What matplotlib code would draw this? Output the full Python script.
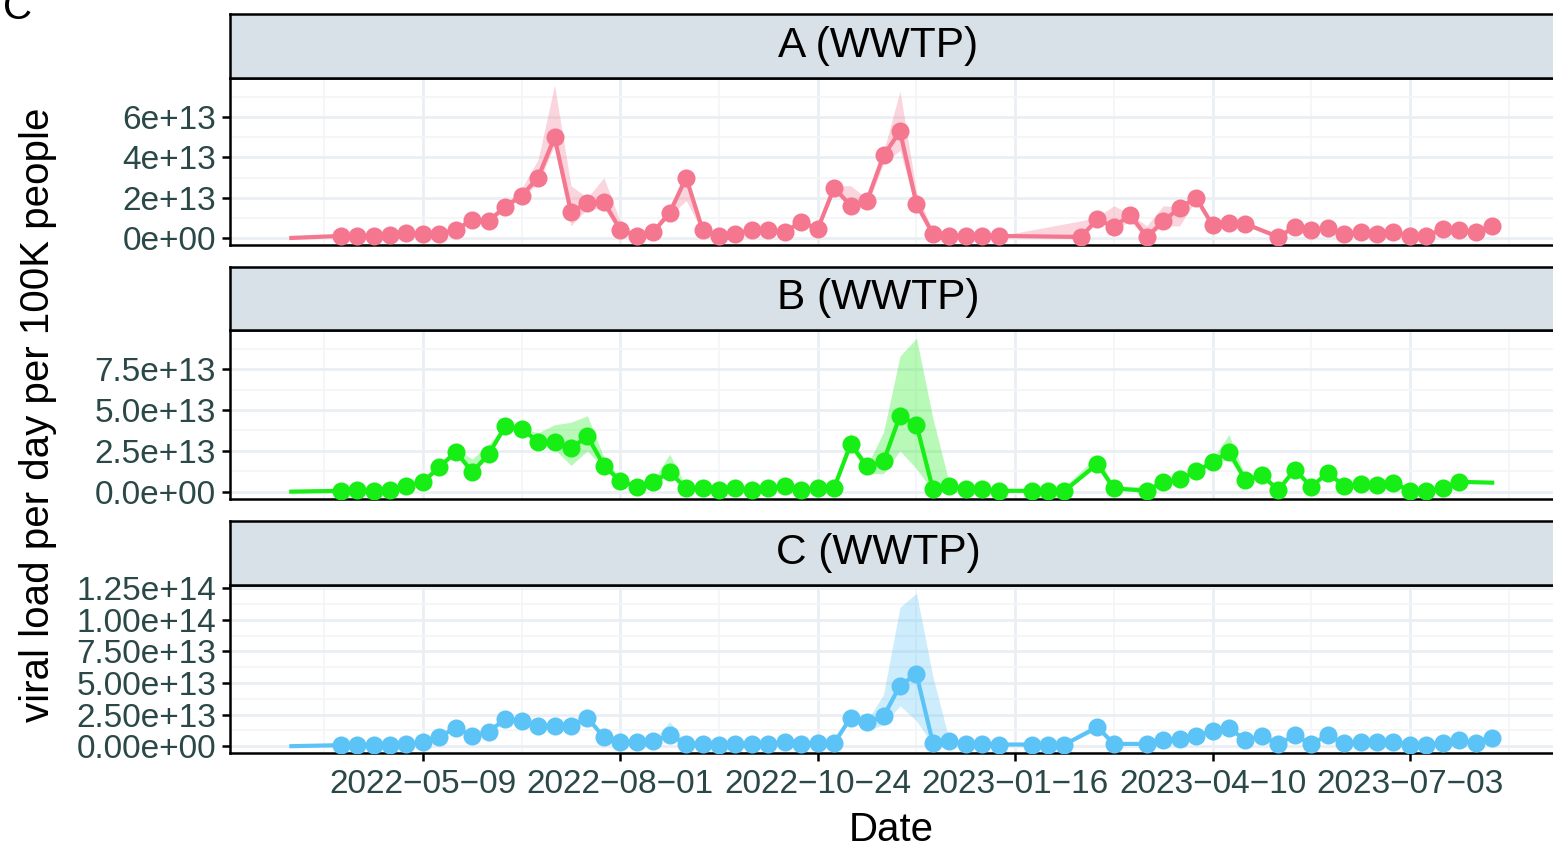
import matplotlib.pyplot as plt
import numpy as np
import pandas as pd

plt.rcParams["font.family"] = ["Liberation Sans", "DejaVu Sans"]

nan = np.nan

# weekly sampling dates; the first week only carries the fitted line
weeks = pd.date_range("2022-03-14", "2023-08-07", freq="7D")

# viral load per day per 100K people, in units of 1e13 (nan = no sample)
a_val = [0.0, nan, nan,
         0.1, 0.1, 0.1, 0.15, 0.25, 0.2, 0.2, 0.4, 0.9, 0.85,
         1.55, 2.1, 3.0, 5.0, 1.3, 1.75, 1.8, 0.4, 0.1, 0.3,
         1.25, 3.0, 0.4, 0.1, 0.2, 0.4, 0.4, 0.3, 0.8, 0.45,
         2.5, 1.6, 1.85, 4.1, 5.3, 1.7, 0.2, 0.1, 0.1, 0.1,
         0.1, nan, nan, nan, nan, 0.05, 0.93, 0.55, 1.15, 0.05,
         0.83, 1.5, 2.0, 0.63, 0.76, 0.7, nan, 0.05, 0.55, 0.4,
         0.5, 0.2, 0.3, 0.2, 0.3, 0.1, 0.1, 0.45, 0.4, 0.3,
         0.6]
a_lo = [0.0, nan, nan,
        0.05, 0.05, 0.05, 0.1, 0.2, 0.15, 0.15, 0.35, 0.8, 0.8,
        1.4, 2.0, 2.7, 4.6, 0.6, 1.45, 1.45, 0.3, 0.05, 0.25,
        1.1, 1.85, 0.3, 0.05, 0.15, 0.35, 0.35, 0.25, 0.75, 0.4,
        2.3, 1.5, 1.6, 3.7, 4.35, 1.4, 0.15, 0.05, 0.05, 0.05,
        0.05, nan, nan, nan, nan, 0.0, 0.8, 0.45, 0.8, 0.0,
        0.6, 0.6, 1.9, 0.55, 0.7, 0.65, nan, 0.0, 0.5, 0.35,
        0.45, 0.15, 0.25, 0.15, 0.25, 0.05, 0.05, 0.4, 0.35, 0.25,
        0.55]
a_hi = [0.0, nan, nan,
        0.1, 0.1, 0.1, 0.15, 0.25, 0.2, 0.2, 0.45, 1.0, 1.0,
        1.7, 2.45, 3.9, 7.6, 2.6, 2.0, 3.0, 0.8, 0.2, 0.4,
        1.6, 3.0, 0.6, 0.15, 0.25, 0.45, 0.45, 0.35, 0.85, 0.5,
        2.6, 2.6, 1.95, 4.3, 7.3, 2.3, 0.3, 0.15, 0.15, 0.15,
        0.1, nan, nan, nan, nan, 0.85, 1.05, 1.6, 1.2, 0.6,
        1.6, 1.55, 2.05, 0.7, 0.8, 0.75, nan, 0.1, 0.6, 0.45,
        0.55, 0.25, 0.35, 0.25, 0.35, 0.15, 0.15, 0.5, 0.45, 0.35,
        0.65]

b_val = [0.0, nan, nan,
         0.05, 0.1, 0.05, 0.1, 0.35, 0.6, 1.5, 2.45, 1.2, 2.3,
         4.0, 3.85, 3.05, 3.05, 2.65, 3.4, 1.6, 0.65, 0.3, 0.6,
         1.2, 0.2, 0.2, 0.1, 0.2, 0.1, 0.2, 0.35, 0.1, 0.2,
         0.25, 2.9, 1.55, 1.85, 4.65, 4.1, 0.15, 0.35, 0.15, 0.15,
         0.05, nan, 0.05, 0.05, 0.05, nan, 1.7, 0.2, nan, 0.05,
         0.6, 0.75, 1.25, 1.8, 2.45, 0.7, 1.0, 0.1, 1.35, 0.3,
         1.15, 0.35, 0.45, 0.4, 0.55, 0.05, 0.05, 0.2, 0.6, nan,
         0.55]
b_lo = [0.0, nan, nan,
        0.0, 0.05, 0.0, 0.05, 0.3, 0.5, 1.4, 2.3, 1.1, 2.2,
        3.9, 3.7, 2.9, 2.6, 1.6, 2.5, 1.4, 0.55, 0.25, 0.5,
        1.0, 0.15, 0.15, 0.05, 0.15, 0.05, 0.15, 0.3, 0.05, 0.15,
        0.2, 2.7, 1.1, 1.1, 2.5, 1.4, 0.05, 0.3, 0.1, 0.1,
        0.0, nan, 0.0, 0.0, 0.0, nan, 1.6, 0.15, nan, 0.0,
        0.5, 0.7, 1.2, 1.7, 2.0, 0.6, 0.9, 0.05, 1.25, 0.25,
        1.05, 0.3, 0.4, 0.35, 0.5, 0.0, 0.0, 0.15, 0.55, nan,
        0.55]
b_hi = [0.0, nan, nan,
        0.1, 0.15, 0.1, 0.15, 0.4, 0.7, 1.6, 2.6, 2.0, 2.9,
        4.0, 3.9, 3.6, 4.1, 4.25, 4.65, 2.1, 0.8, 0.4, 0.7,
        2.3, 0.3, 0.25, 0.15, 0.25, 0.15, 0.25, 0.4, 0.15, 0.25,
        0.3, 3.6, 1.6, 3.65, 8.3, 9.4, 4.5, 0.5, 0.2, 0.2,
        0.1, nan, 0.1, 0.1, 0.3, nan, 2.2, 0.35, nan, 0.3,
        0.7, 0.85, 1.35, 2.0, 3.5, 0.9, 1.1, 0.15, 1.45, 0.35,
        1.25, 0.4, 0.5, 0.45, 0.6, 0.1, 0.1, 0.25, 0.65, nan,
        0.55]

c_val = [0.0, nan, nan,
         0.08, 0.08, 0.08, 0.13, 0.18, 0.3, 0.75, 1.45, 0.8, 1.15,
         2.15, 2.0, 1.6, 1.6, 1.6, 2.25, 0.7, 0.3, 0.3, 0.4,
         0.85, 0.2, 0.2, 0.13, 0.2, 0.2, 0.2, 0.3, 0.2, 0.25,
         0.25, 2.25, 1.9, 2.35, 4.8, 5.7, 0.25, 0.4, 0.2, 0.2,
         0.13, nan, 0.13, 0.13, 0.13, nan, 1.5, 0.18, nan, 0.18,
         0.47, 0.58, 0.8, 1.2, 1.45, 0.47, 0.8, 0.18, 0.85, 0.18,
         0.85, 0.25, 0.3, 0.3, 0.3, 0.13, 0.13, 0.25, 0.47, 0.25,
         0.65]
c_lo = [0.0, nan, nan,
        0.05, 0.05, 0.05, 0.1, 0.15, 0.25, 0.7, 1.4, 0.7, 1.1,
        2.1, 1.9, 1.5, 1.5, 1.5, 2.1, 0.6, 0.25, 0.25, 0.35,
        0.7, 0.15, 0.15, 0.1, 0.15, 0.15, 0.15, 0.25, 0.15, 0.2,
        0.2, 2.1, 1.2, 1.7, 3.2, 2.0, 0.1, 0.35, 0.15, 0.15,
        0.1, nan, 0.1, 0.1, 0.1, nan, 1.3, 0.15, nan, 0.15,
        0.45, 0.55, 0.75, 1.1, 1.3, 0.45, 0.75, 0.15, 0.8, 0.15,
        0.8, 0.2, 0.25, 0.25, 0.25, 0.1, 0.1, 0.2, 0.45, 0.2,
        0.6]
c_hi = [0.0, nan, nan,
        0.1, 0.1, 0.1, 0.15, 0.2, 0.35, 0.8, 1.5, 0.9, 1.2,
        2.2, 2.1, 1.7, 1.8, 2.1, 2.5, 0.8, 0.35, 0.35, 0.45,
        1.95, 0.25, 0.25, 0.15, 0.25, 0.25, 0.25, 0.35, 0.25, 0.3,
        0.3, 2.4, 2.0, 4.1, 11.0, 12.1, 5.5, 0.45, 0.25, 0.25,
        0.15, nan, 0.15, 0.15, 0.3, nan, 1.85, 0.25, nan, 0.2,
        0.5, 0.6, 0.85, 1.3, 1.6, 0.5, 0.85, 0.2, 0.9, 0.2,
        0.9, 0.3, 0.35, 0.35, 0.35, 0.15, 0.15, 0.3, 0.5, 0.3,
        0.7]

# weeks drawn as line only (no point)
a_nomark = [0]
b_nomark = [0, 73]
c_nomark = [0]

a_yticks = [0, 2e13, 4e13, 6e13]
a_ylabels = ["0e+00", "2e+13", "4e+13", "6e+13"]
b_yticks = [0, 2.5e13, 5e13, 7.5e13]
b_ylabels = ["0.0e+00", "2.5e+13", "5.0e+13", "7.5e+13"]
c_yticks = [0, 2.5e13, 5e13, 7.5e13, 1e14, 1.25e14]
c_ylabels = ["0.00e+00", "2.50e+13", "5.00e+13", "7.50e+13", "1.00e+14", "1.25e+14"]

xtick_labels = ["2022-05-09", "2022-08-01", "2022-10-24",
                "2023-01-16", "2023-04-10", "2023-07-03"]

panels = [
    ("A (WWTP)", a_val, a_lo, a_hi, a_nomark, "#F5768F", a_yticks, a_ylabels, (-0.35e13, 7.95e13)),
    ("B (WWTP)", b_val, b_lo, b_hi, b_nomark, "#16EE16", b_yticks, b_ylabels, (-0.45e13, 9.9e13)),
    ("C (WWTP)", c_val, c_lo, c_hi, c_nomark, "#5CC3F7", c_yticks, c_ylabels, (-0.5e13, 12.75e13)),
]

W, H = 1553, 846
fig = plt.figure(figsize=(W / 100, H / 100), dpi=100)

left, right = 230, 1558
# (strip top, panel top, panel bottom) in pixels from the top
rows = [(14, 78, 245), (267, 330, 499), (521, 585, 752.5)]

xmaj = pd.to_datetime(xtick_labels)
xmin = list(xmaj - pd.Timedelta(days=42)) + [xmaj[-1] + pd.Timedelta(days=42)]
xlim = (pd.Timestamp("2022-05-09") - pd.Timedelta(days=82.1),
        pd.Timestamp("2023-07-03") + pd.Timedelta(days=63))

tick_col = "#2B4848"
grid_col = "#EAEFF3"

for i, (title, val, lo, hi, nomark, col, yt, ylab, ylim) in enumerate(panels):
    s_top, p_top, p_bot = rows[i]
    ax = fig.add_axes([left / W, 1 - p_bot / H, (right - left) / W, (p_bot - p_top) / H])

    val = np.array(val) * 1e13
    lo = np.array(lo) * 1e13
    hi = np.array(hi) * 1e13
    ok = ~np.isnan(val)
    mark = ok.copy()
    mark[nomark] = False

    ax.fill_between(weeks[ok], lo[ok], hi[ok], color=col, alpha=0.3, lw=0, zorder=2)
    ax.plot(weeks[ok], val[ok], color=col, lw=3.0, zorder=3)
    ax.plot(weeks[mark], val[mark], "o", color=col, ms=13, mew=0, zorder=4)

    ax.set_xticks(xmaj)
    ax.set_xticks(xmin, minor=True)
    ymin = [t + (yt[1] - yt[0]) / 2 for t in yt]
    ax.set_yticks(yt)
    ax.set_yticks(ymin, minor=True)
    ax.set_yticklabels(ylab)
    # limits go last so the minor ticks cannot widen them
    ax.set_xlim(xlim)
    ax.set_ylim(ylim)

    ax.grid(which="major", color=grid_col, lw=2.0, zorder=0)
    ax.grid(which="minor", color="#F3F6F8", lw=1.3, zorder=0)
    ax.set_axisbelow(True)

    ax.tick_params(which="minor", length=0)
    ax.tick_params(axis="y", which="major", length=6, width=1.8, color="black",
                   labelsize=24, labelcolor=tick_col, pad=4)
    if i == 2:
        ax.set_xticklabels([s.replace("-", "\u2212") for s in xtick_labels])
        ax.tick_params(axis="x", which="major", length=6, width=1.8, color="black",
                       labelsize=24, labelcolor=tick_col, pad=6)
    else:
        ax.tick_params(axis="x", which="major", length=0, labelbottom=False)
    for sp in ax.spines.values():
        sp.set_linewidth(1.8)
        sp.set_color("black")

    # facet strip above the panel
    sax = fig.add_axes([left / W, 1 - p_top / H, (right - left) / W, (p_top - s_top) / H])
    sax.set_facecolor("#D8E1E7")
    sax.set_xticks([])
    sax.set_yticks([])
    for sp in sax.spines.values():
        sp.set_linewidth(1.8)
        sp.set_color("black")
    sax.text((878 - left) / (right - left), 0.5, title, ha="center", va="center",
             fontsize=30.5, color="black")

fig.text(38 / W, 1 - 415 / H, "viral load per day per 100K people", rotation=90,
         ha="center", va="center", fontsize=29)
fig.text(891 / W, 1 - 830 / H, "Date", ha="center", va="center", fontsize=29)
fig.text(3 / W, 1 - 19 / H, "C", ha="left", va="baseline", fontsize=29)

fig.savefig("out.png", dpi=100)
